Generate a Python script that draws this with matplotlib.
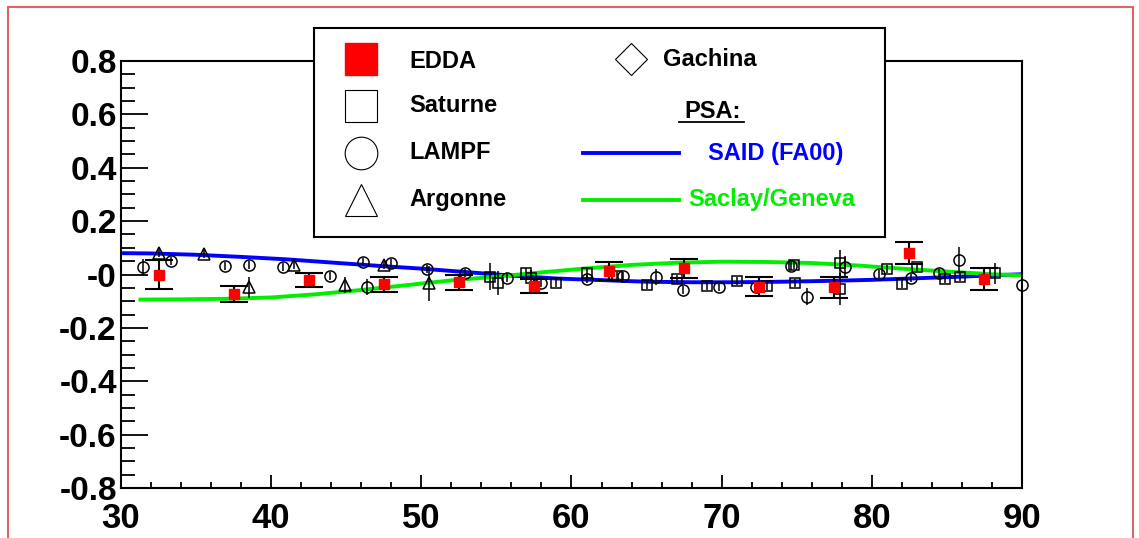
import matplotlib
matplotlib.use("Agg")
import matplotlib.pyplot as plt
from matplotlib.ticker import MultipleLocator, FixedLocator, FixedFormatter
from matplotlib.patches import Rectangle

plt.rcParams['font.family'] = ['Liberation Sans', 'DejaVu Sans']
plt.rcParams['font.weight'] = 'bold'

# PSA curves
said_angle = [30, 32, 35, 38, 41, 44, 47, 50, 53, 56, 59, 62, 65, 68, 71, 74, 77, 80, 83, 86, 88, 90]
said_val = [0.080, 0.079, 0.074, 0.066, 0.057, 0.045, 0.033, 0.022, 0.009, -0.004, -0.015, -0.021,
            -0.027, -0.029, -0.029, -0.027, -0.024, -0.020, -0.014, -0.008, -0.003, 0.001]

sg_angle = [31.3, 34, 37, 40, 43, 46, 49, 52, 55, 58, 61, 64, 67, 70, 73, 76, 79, 82, 85, 88, 90]
sg_val = [-0.094, -0.093, -0.091, -0.086, -0.074, -0.058, -0.040, -0.022, -0.008, 0.008, 0.023,
          0.036, 0.044, 0.048, 0.047, 0.043, 0.034, 0.022, 0.011, 0.001, -0.003]

# EDDA
edda_angle = [32.5, 37.5, 42.5, 47.5, 52.5, 57.5, 62.5, 67.5, 72.5, 77.5, 82.5, 87.5]
edda_val = [-0.001, -0.073, -0.021, -0.037, -0.029, -0.042, 0.014, 0.023, -0.046, -0.048, 0.079, -0.016]
edda_err = [0.055, 0.030, 0.026, 0.028, 0.029, 0.027, 0.033, 0.036, 0.036, 0.039, 0.041, 0.041]

# Saturne
sat_angle = [54.6, 55.1, 57.0, 57.3, 59.0, 61.0, 63.0, 65.0, 67.0, 69.0, 71.0, 73.0, 74.8, 74.9,
             77.9, 77.9, 81.0, 82.0, 83.0, 84.9, 85.9, 88.2]
sat_val = [-0.008, -0.030, 0.005, -0.013, -0.030, 0.004, -0.004, -0.040, -0.018, -0.043, -0.023,
           -0.042, 0.036, -0.030, 0.042, -0.055, 0.021, -0.036, 0.027, -0.017, -0.011, 0.004]
sat_err = [0.05, 0.045, 0.02, 0.03, 0.015, 0.015, 0.015, 0.015, 0.015, 0.015, 0.015,
           0.015, 0.015, 0.015, 0.05, 0.06, 0.015, 0.015, 0.015, 0.015, 0.015, 0.04]

# LAMPF
lampf_angle = [31.5, 33.3, 36.9, 38.5, 40.8, 43.9, 46.1, 46.4, 48.0, 50.4, 52.9, 55.7, 58.0, 61.0,
               63.4, 65.6, 67.4, 69.8, 72.3, 74.6, 75.7, 78.2, 80.5, 82.6, 84.5, 85.8, 90.0]
lampf_val = [0.029, 0.052, 0.032, 0.036, 0.029, -0.006, 0.046, -0.048, 0.042, 0.019, 0.007, -0.014,
             -0.033, -0.015, -0.005, -0.008, -0.058, -0.048, -0.046, 0.032, -0.083, 0.029, 0.001,
             -0.012, 0.004, 0.054, -0.039]
lampf_err = [0.03, 0.015, 0.015, 0.015, 0.015, 0.015, 0.015, 0.03, 0.015, 0.015, 0.015, 0.015,
             0.015, 0.015, 0.015, 0.03, 0.015, 0.015, 0.015, 0.015, 0.033, 0.04, 0.015,
             0.015, 0.015, 0.05, 0.015]

# Argonne
arg_angle = [32.5, 35.5, 38.5, 41.5, 44.9, 47.5, 50.5]
arg_val = [0.079, 0.077, -0.048, 0.036, -0.039, 0.036, -0.033]
arg_err = [0.015, 0.015, 0.04, 0.015, 0.03, 0.015, 0.065]

ytick_vals = [-0.8, -0.6, -0.4, -0.2, 0.0, 0.2, 0.4, 0.6, 0.8]
ytick_labels = ['-0.8', '-0.6', '-0.4', '-0.2', '-0', '0.2', '0.4', '0.6', '0.8']
xtick_vals = [30, 40, 50, 60, 70, 80, 90]

fig = plt.figure(figsize=(11.39, 5.38), dpi=100)
fig.patches.append(Rectangle((0.007, -0.05), 0.9877, 1.037, transform=fig.transFigure,
                             fill=False, edgecolor='#e06666', linewidth=1.5))

ax = fig.add_axes([0.1062, 0.0929, 0.7911, 0.7937])
ax.set_xlim(30, 90)
ax.set_ylim(-0.8, 0.8)

ax.plot(said_angle, said_val, color='#0000ff', lw=2.8, zorder=2)
ax.plot(sg_angle, sg_val, color='#00ee00', lw=2.8, zorder=2)

common = dict(ls='none', color='black', mfc='none', mec='black', mew=1.1,
              elinewidth=1.1, capsize=0, zorder=3, clip_on=False)
ax.errorbar(sat_angle, sat_val, yerr=sat_err, marker='s', ms=7.2, **common)
ax.errorbar(lampf_angle, lampf_val, yerr=lampf_err, marker='o', ms=8, **common)
ax.errorbar(arg_angle, arg_val, yerr=arg_err, marker='^', ms=8, **common)
ax.errorbar(edda_angle, edda_val, yerr=edda_err, ls='none', marker='s', ms=7.5,
            mfc='#ff0000', mec='#ff0000', ecolor='black', elinewidth=1.5,
            capsize=10, capthick=1.5, zorder=4)

for s in ax.spines.values():
    s.set_linewidth(1.5)
ax.yaxis.set_major_locator(FixedLocator(ytick_vals))
ax.yaxis.set_major_formatter(FixedFormatter(ytick_labels))
ax.yaxis.set_minor_locator(MultipleLocator(0.05))
ax.xaxis.set_major_locator(FixedLocator(xtick_vals))
ax.xaxis.set_minor_locator(MultipleLocator(2))
ax.tick_params(axis='y', which='major', direction='in', length=19.5, width=1.3,
               labelsize=24, pad=3)
ax.tick_params(axis='y', which='minor', direction='in', length=10, width=1.3)
ax.tick_params(axis='x', which='major', direction='in', length=9.5, width=1.3,
               labelsize=25, pad=10)
ax.tick_params(axis='x', which='minor', direction='in', length=4.5, width=1.3)
for lab in ax.get_xticklabels() + ax.get_yticklabels():
    lab.set_fontweight('bold')

# legend box
lx0, lx1, ly0, ly1 = 314, 885, 28, 237
lax = fig.add_axes([lx0 / 1139, 1 - ly1 / 538, (lx1 - lx0) / 1139, (ly1 - ly0) / 538])
lax.set_xlim(lx0, lx1)
lax.set_ylim(ly1, ly0)
lax.set_xticks([])
lax.set_yticks([])
for s in lax.spines.values():
    s.set_linewidth(1.5)

fs = 17
lax.plot([361], [59], 's', ms=23.5, mfc='#ff0000', mec='#ff0000')
lax.text(409, 61, 'EDDA', fontsize=fs, fontweight='bold', va='center')
lax.plot([361], [106], 's', ms=23.5, mfc='none', mec='black', mew=0.8)
lax.text(409, 106, 'Saturne', fontsize=fs, fontweight='bold', va='center')
lax.plot([361], [153], 'o', ms=23.5, mfc='none', mec='black', mew=0.8)
lax.text(409, 153, 'LAMPF', fontsize=fs, fontweight='bold', va='center')
lax.plot([361], [200], '^', ms=23.5, mfc='none', mec='black', mew=0.8)
lax.text(409, 200, 'Argonne', fontsize=fs, fontweight='bold', va='center')
lax.plot([631], [59], 'D', ms=16.5, mfc='none', mec='black', mew=0.8)
lax.text(663, 60, 'Gachina', fontsize=fs, fontweight='bold', va='center')
lax.text(684, 112, 'PSA:', fontsize=fs, fontweight='bold', va='center')
lax.plot([679, 744], [122, 122], color='black', lw=1.3)
lax.plot([583, 679], [153, 153], color='#0000ff', lw=2.8)
lax.text(708, 154, 'SAID (FA00)', fontsize=fs, fontweight='bold', va='center', color='#0000ff')
lax.plot([583, 679], [200, 200], color='#00ee00', lw=2.8)
lax.text(688, 200, 'Saclay/Geneva', fontsize=fs, fontweight='bold', va='center', color='#00ee00')

fig.savefig('out.png', dpi=100)
